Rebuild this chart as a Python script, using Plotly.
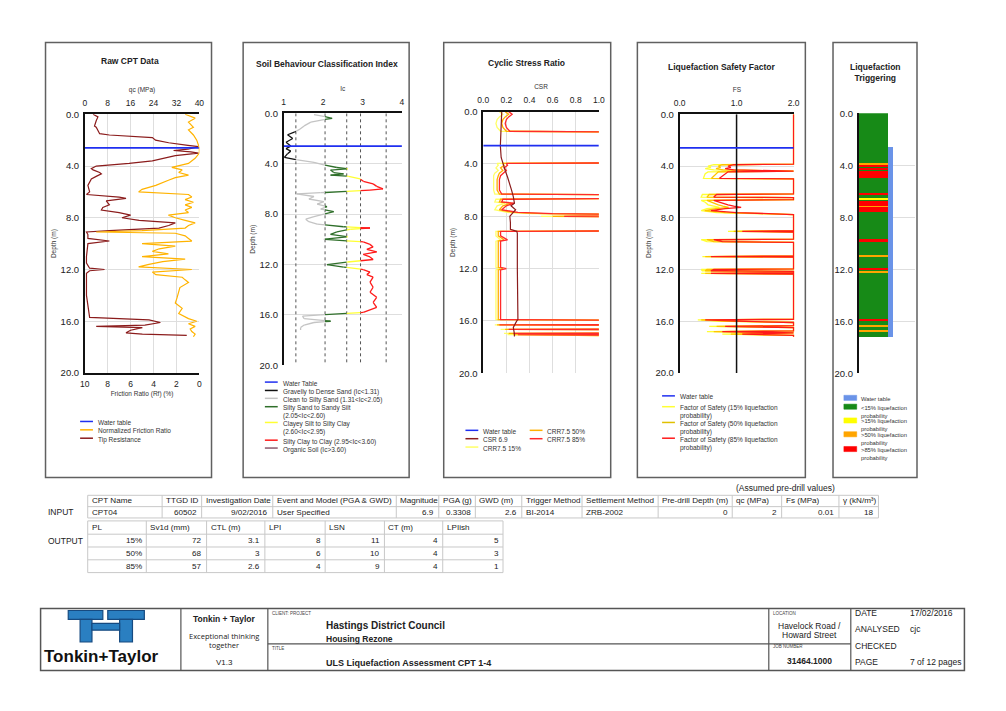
import plotly.graph_objects as go

W, H = 1006, 711
FONT = "Liberation Sans, Arial, sans-serif"


def fx(p):
    return p / W


def fy(p):
    return 1 - p / H


# ------------------------------------------------------------------ data
gwd = 2.6            # ground water depth (m)
max_depth = 20.0
profile_end = 17.2   # end of CPT (m)
depth_ticks = [0, 4, 8, 12, 16, 20]

# Panel 1 : raw CPT data
qc_depth = [0.0, 0.2, 0.5, 0.9, 1.0, 1.3, 1.5, 1.6, 1.7, 1.8, 2.0, 2.2, 2.4, 2.5, 2.7,
            2.8, 2.9, 3.0, 3.2, 3.4, 3.6, 3.8, 3.9, 4.0, 4.2, 4.3, 4.5, 4.6, 4.8, 5.0,
            5.5, 6.0, 6.2, 6.4, 6.5, 6.7, 7.0, 7.2, 7.4, 7.6, 7.8, 8.0, 8.2, 8.4, 8.6,
            8.8, 9.0, 9.1, 9.3, 9.6, 9.8, 10.0, 11.0, 11.5, 11.9, 12.0, 12.1, 12.3, 14.0, 15.0,
            15.7, 15.9, 16.1, 16.3, 16.4, 16.5, 16.7, 16.9, 17.0, 17.1]
qc_mpa = [2.9, 4.6, 4.0, 3.4, 4.0, 4.6, 5.2, 8.6, 15.5, 23.6, 24.7, 29.3, 36, 39.7, 36,
          31, 37, 39.7, 31.6, 27.6, 23.6, 15.5, 8.6, 4.0, 2.3, 2.9, 5.2, 5.8, 4.0, 2.3,
          1.1, 1.7, 0.6, 12, 14.4, 7.5, 8.6, 6.3, 5.8, 12, 16, 13, 19, 31.6, 29.3,
          25.9, 8.6, 0.6, 1.1, 1.1, 8.6, 1.1, 0.6, 0.6, 1.7, 6.9, 1.7, 0.6, 0.6, 1.1,
          1.7, 22.4, 26.4, 21, 4.0, 20.1, 16, 14.4, 20.1, 35.6]
rf_depth = [0.0, 0.3, 0.6, 1.0, 1.2, 1.6, 2.0, 2.4, 2.6, 3.0, 3.4, 3.8, 4.1, 4.3, 4.5,
            4.7, 4.9, 5.1, 5.3, 5.5, 5.8, 6.0, 6.2, 6.4, 6.6, 6.8, 7.0, 7.2, 7.4, 7.6,
            7.8, 8.0, 8.2, 8.4, 8.6, 8.8, 9.0, 9.1, 9.2, 9.4, 9.6, 9.8, 10.0, 10.2, 10.4,
            10.6, 10.8, 11.0, 11.2, 11.4, 11.6, 11.8, 12.0, 12.2, 12.4, 12.6, 12.8, 13.0, 13.4, 13.8,
            14.2, 14.6, 15.0, 15.4, 15.8, 16.0, 16.2, 16.4, 16.6, 16.8, 17.0, 17.2]
rf_pct = [1.24, 0.37, 0.95, 0.52, 0.95, 0.52, 0.23, 0.09, 0.0, 0.0, 0.37, 0.95, 2.4, 1.5, 1.8,
          0.95, 2.1, 2.7, 3.2, 3.8, 5.0, 5.3, 0.95, 0.66, 1.24, 0.52, 1.24, 0.66, 1.24, 0.95,
          2.7, 2.1, 1.24, 0.37, 0.95, 1.24, 5.0, 9.0, 2.1, 1.24, 0.95, 0.66, 5.0, 2.1, 3.5,
          4.1, 2.7, 5.0, 1.24, 3.2, 4.4, 5.3, 0.66, 4.1, 3.8, 1.5, 1.24, 0.95, 1.7, 1.8,
          1.95, 2.1, 1.5, 1.8, 0.95, 0.23, 0.95, 0.37, 0.8, 0.66, 0.37, 0.52]

# Panel 2 : soil behaviour type index
ic_depth = [0.1, 0.3, 0.4, 0.5, 0.7, 1.0, 1.3, 1.5, 1.7, 2.0, 2.3, 2.6, 2.8, 3.0, 3.2,
            3.5, 3.7, 3.9, 4.1, 4.3, 4.4, 4.5, 4.7, 4.8, 4.9, 5.0, 5.2, 5.4, 5.6, 5.8,
            6.0, 6.1, 6.3, 6.4, 6.6, 6.8, 7.0, 7.2, 7.4, 7.6, 7.8, 8.0, 8.2, 8.4, 8.6,
            8.8, 9.0, 9.1, 9.2, 9.4, 9.6, 9.8, 10.0, 10.2, 10.4, 10.6, 10.8, 11.0, 11.2, 11.4,
            11.6, 11.8, 12.0, 12.2, 12.4, 12.6, 12.8, 13.0, 13.4, 13.8, 14.2, 14.6, 15.0, 15.4, 15.8,
            16.0, 16.1, 16.3, 16.5, 16.6, 16.8, 17.0, 17.2]
ic_val = [1.77, 2.10, 2.23, 2.02, 1.69, 1.52, 1.39, 1.27, 1.10, 1.23, 1.06, 1.18, 1.06, 1.18, 1.10,
          1.02, 1.35, 1.77, 2.02, 2.35, 2.62, 2.19, 2.27, 2.52, 2.19, 2.65, 2.94, 3.02, 3.27, 3.36,
          3.52, 3.19, 1.94, 1.33, 1.77, 1.64, 2.02, 1.85, 2.10, 1.94, 2.27, 2.02, 1.77, 1.56, 1.64,
          1.85, 2.52, 3.19, 2.69, 2.35, 2.19, 2.62, 2.02, 3.02, 3.19, 3.27, 3.11, 3.36, 3.02, 3.19,
          3.27, 2.62, 2.10, 2.52, 3.02, 3.19, 3.11, 3.27, 3.19, 3.27, 3.19, 3.36, 3.27, 3.36, 3.02,
          1.94, 1.48, 1.52, 2.19, 1.77, 1.52, 1.43, 1.43]
ic_bounds = [1.31, 2.05, 2.60, 2.95, 3.60]
ic_zone_labels = ["Gravelly to Dense Sand (Ic<1.31)",
                  "Clean to Silty Sand (1.31<Ic<2.05)",
                  "Silty Sand to Sandy Silt<br>(2.05<Ic<2.60)",
                  "Clayey Silt to Silty Clay<br>(2.60<Ic<2.95)",
                  "Silty Clay to Clay (2.95<Ic<3.60)",
                  "Organic Soil (Ic>3.60)"]
ic_zone_colors = ["#111111", "#c4c4c4", "#2f6f2a", "#ffff33", "#ff1a1a", "#8b5a6e"]

# Panel 3 : cyclic stress ratio (non-liquefiable layers plotted at CRR = 2, off the axis)
csr_depth = [0.0, 1.0, 2.0, 2.6, 3.5, 4.0, 4.5, 5.0, 5.5, 6.0, 6.5, 7.0, 7.2, 7.5, 7.8,
             8.0, 8.5, 9.0, 9.15, 9.3, 12.0, 15.0, 15.9, 16.0, 16.5, 17.0, 17.2]
csr_val = [0.16, 0.155, 0.15, 0.148, 0.155, 0.17, 0.19, 0.21, 0.23, 0.245, 0.26, 0.27, 0.24, 0.28, 0.25,
           0.23, 0.235, 0.235, 0.29, 0.295, 0.295, 0.3, 0.3, 0.29, 0.26, 0.27, 0.27]
crr_depth = [0.0, 0.2, 0.4, 0.6, 0.9, 1.2, 1.5, 1.6, 3.9, 3.95, 4.1, 4.3, 4.5, 4.7, 4.9,
             5.2, 6.0, 6.3, 6.4, 6.6, 6.7, 6.9, 7.0, 7.2, 7.5, 7.7, 7.8, 7.9, 8.0, 8.1,
             9.1, 9.15, 9.5, 9.8, 9.9, 11.9, 12.0, 12.1, 15.9, 16.0, 16.25, 16.3, 16.35, 16.6, 16.65,
             16.7, 16.9, 16.95, 17.0, 17.05, 17.1, 17.2]
crr85 = [0.22, 0.25, 0.22, 0.2, 0.19, 0.2, 0.23, 2.0, 2.0, 0.2, 0.21, 0.18, 0.2, 0.17, 0.15,
         0.14, 0.14, 0.16, 2.0, 2.0, 0.17, 0.16, 0.27, 0.2, 0.16, 0.3, 0.6, 2.0, 0.7, 2.0,
         2.0, 0.15, 0.15, 0.21, 0.15, 0.15, 0.2, 0.15, 0.15, 2.0, 2.0, 0.14, 2.0, 2.0, 0.22,
         2.0, 2.0, 0.26, 2.0, 0.3, 2.0, 2.0]
crr50 = [0.19, 0.22, 0.19, 0.17, 0.16, 0.17, 0.2, 2.0, 2.0, 0.17, 0.18, 0.15, 0.17, 0.14, 0.13,
         0.12, 0.12, 0.14, 2.0, 2.0, 0.15, 0.14, 0.24, 0.17, 0.14, 0.26, 0.52, 2.0, 0.6, 2.0,
         2.0, 0.13, 0.13, 0.18, 0.13, 0.13, 0.17, 0.13, 0.13, 2.0, 2.0, 0.12, 2.0, 2.0, 0.19,
         2.0, 2.0, 0.22, 2.0, 0.26, 2.0, 2.0]
crr15 = [0.14, 0.17, 0.14, 0.12, 0.11, 0.12, 0.15, 2.0, 2.0, 0.12, 0.13, 0.11, 0.13, 0.1, 0.09,
         0.09, 0.09, 0.1, 2.0, 2.0, 0.11, 0.1, 0.19, 0.12, 0.1, 0.21, 0.42, 2.0, 0.5, 2.0,
         2.0, 0.11, 0.11, 0.15, 0.11, 0.11, 0.14, 0.11, 0.11, 2.0, 2.0, 0.1, 2.0, 2.0, 0.15,
         2.0, 2.0, 0.18, 2.0, 0.21, 2.0, 2.0]

# Panel 4 : factor of safety
fs_limit = 1.0
fs_depth = [0.0, 3.85, 3.9, 4.0, 4.1, 4.2, 4.3, 4.35, 4.4, 4.45, 4.6, 4.8, 4.95, 5.0, 6.15,
            6.2, 6.4, 6.45, 6.6, 6.65, 6.8, 7.0, 7.1, 7.2, 7.3, 7.45, 7.6, 7.75, 9.0, 9.05,
            9.1, 9.65, 9.7, 9.85, 9.9, 10.95, 11.0, 11.05, 11.95, 12.0, 12.1, 12.15, 12.25, 12.3, 12.35,
            15.85, 15.9, 16.0, 16.1, 16.35, 16.4, 16.5, 16.75, 16.8, 16.9, 17.0, 17.1, 17.2]
fs85 = [2.0, 2.0, 0.95, 0.85, 0.9, 0.8, 0.95, 2.0, 2.0, 0.85, 0.8, 0.75, 0.7, 2.0, 2.0,
        0.65, 0.6, 2.0, 2.0, 0.6, 0.7, 0.85, 0.95, 1.08, 0.8, 0.55, 1.0, 2.0, 2.0, 1.1,
        2.0, 2.0, 0.6, 0.75, 2.0, 2.0, 0.55, 2.0, 2.0, 0.6, 0.55, 2.0, 2.0, 0.55, 2.0,
        2.0, 0.45, 1.0, 2.0, 2.0, 0.8, 2.0, 2.0, 0.75, 2.0, 1.1, 2.0, 2.0]
fs50 = [2.0, 2.0, 0.75, 0.68, 0.72, 0.64, 0.76, 2.0, 2.0, 0.68, 0.64, 0.6, 0.56, 2.0, 2.0,
        0.52, 0.48, 2.0, 2.0, 0.48, 0.56, 0.68, 0.76, 0.86, 0.64, 0.44, 0.8, 2.0, 2.0, 0.95,
        2.0, 2.0, 0.48, 0.6, 2.0, 2.0, 0.45, 2.0, 2.0, 0.48, 0.45, 2.0, 2.0, 0.45, 2.0,
        2.0, 0.38, 0.8, 2.0, 2.0, 0.65, 2.0, 2.0, 0.6, 2.0, 0.9, 2.0, 2.0]
fs15 = [2.0, 2.0, 0.6, 0.5, 0.55, 0.45, 0.6, 2.0, 2.0, 0.5, 0.45, 0.43, 0.42, 2.0, 2.0,
        0.4, 0.38, 2.0, 2.0, 0.38, 0.45, 0.5, 0.58, 0.7, 0.48, 0.38, 0.65, 2.0, 2.0, 0.85,
        2.0, 2.0, 0.38, 0.48, 2.0, 2.0, 0.4, 2.0, 2.0, 0.38, 0.4, 2.0, 2.0, 0.38, 2.0,
        2.0, 0.32, 0.65, 2.0, 2.0, 0.52, 2.0, 2.0, 0.48, 2.0, 0.75, 2.0, 2.0]

# Panel 5 : liquefaction triggering bands
trig_top = [3.88, 4.06, 4.24, 4.48, 6.12, 6.58, 6.78, 7.16, 7.26, 9.66, 10.95, 11.93, 12.22, 15.88, 16.32, 16.70]
trig_bot = [3.98, 4.16, 4.36, 5.00, 6.28, 6.68, 7.14, 7.24, 7.62, 9.90, 11.05, 12.07, 12.32, 16.02, 16.42, 16.80]
trig_cls = [">50%", ">85%", ">85%", ">85%", ">85%", ">15%", ">85%", ">50%", ">85%", ">85%",
            ">50%", ">85%", ">50%", ">85%", ">50%", ">50%"]

# Tables
input_header = ["CPT Name", "TTGD ID", "Investigation Date", "Event and Model (PGA & GWD)", "Magnitude",
                "PGA (g)", "GWD (m)", "Trigger Method", "Settlement Method", "Pre-drill Depth (m)",
                "qc (MPa)", "Fs (MPa)", "γ (kN/m³)"]
input_row = ["CPT04", "60502", "9/02/2016", "User Specified", "6.9", "0.3308", f"{gwd:g}",
             "BI-2014", "ZRB-2002", "0", "2", "0.01", "18"]
input_align = ["left", "right", "right", "left", "right", "right", "right", "left", "left",
               "right", "right", "right", "right"]
output_header = ["PL", "Sv1d (mm)", "CTL (m)", "LPI", "LSN", "CT (m)", "LPIish"]
output_pl = ["15%", "50%", "85%"]
output_sv1d = [72, 68, 57]
output_ctl = [3.1, 3, 2.6]
output_lpi = [8, 6, 4]
output_lsn = [11, 10, 9]
output_ct = [4, 4, 4]
output_lpiish = [5, 3, 1]

# ------------------------------------------------------------------ styles
BLUE = "#1f2ff0"
TIP_C = "#8b1c1c"
RF_C = "#ffb300"
CSR_C = "#8b1c1c"
CRR15_C, CRR50_C, CRR85_C = "#ffff66", "#ffb000", "#ff2a2a"
FS15_C, FS50_C, FS85_C = "#ffff33", "#ffc400", "#ff1a1a"
GREEN_C = "#178a17"
TRIG_COLORS = {">15%": "#ffff00", ">50%": "#ffa500", ">85%": "#ff0000"}
WT_BAR_C = "#6a93e8"
GRID = "#dedede"

fig = go.Figure()

# ---------------- Panel 1
qc_range = [0, 40]
rf_range = [10, 0]
fig.add_trace(go.Scatter(x=rf_pct, y=rf_depth, mode="lines", xaxis="x2", yaxis="y",
                         line=dict(color=RF_C, width=1.2), name="Normalized Friction Ratio"))
fig.add_trace(go.Scatter(x=qc_mpa, y=qc_depth, mode="lines", xaxis="x", yaxis="y",
                         line=dict(color=TIP_C, width=1.2), name="Tip Resistance"))
fig.add_trace(go.Scatter(x=qc_range, y=[gwd, gwd], mode="lines", xaxis="x", yaxis="y",
                         line=dict(color=BLUE, width=1.8), name="Water table"))

# ---------------- Panel 2
ic_range = [1, 4]
for b in ic_bounds:
    fig.add_trace(go.Scatter(x=[b, b], y=[0, max_depth], mode="lines", xaxis="x3", yaxis="y3",
                             line=dict(color="#555", width=1, dash="dot"), hoverinfo="skip"))


def zone_of(v):
    return sum(1 for b in ic_bounds if v >= b)


zx = {z: [] for z in range(len(ic_zone_colors))}
zy = {z: [] for z in range(len(ic_zone_colors))}
for i in range(len(ic_depth) - 1):
    d0, d1 = ic_depth[i], ic_depth[i + 1]
    v0, v1 = ic_val[i], ic_val[i + 1]
    lo, hi = min(v0, v1), max(v0, v1)
    cuts = sorted([b for b in ic_bounds if lo < b < hi], reverse=v0 > v1)
    pts = [(v0, d0)] + [(b, d0 + (b - v0) / (v1 - v0) * (d1 - d0)) for b in cuts] + [(v1, d1)]
    for (a, da), (c, dc) in zip(pts[:-1], pts[1:]):
        z = zone_of((a + c) / 2)
        zx[z] += [a, c, None]
        zy[z] += [da, dc, None]
for z in range(len(ic_zone_colors)):
    if zx[z]:
        fig.add_trace(go.Scatter(x=zx[z], y=zy[z], mode="lines", xaxis="x3", yaxis="y3",
                                 line=dict(color=ic_zone_colors[z], width=1.3),
                                 name=ic_zone_labels[z].replace("<br>", " ")))
fig.add_trace(go.Scatter(x=[ic_range[0], ic_range[1]], y=[gwd, gwd], mode="lines", xaxis="x3", yaxis="y3",
                         line=dict(color=BLUE, width=1.8), name="Water Table"))

# ---------------- Panel 3
csr_range = [0, 1]
for vals, col, nm in [(crr15, CRR15_C, "CRR7.5 15%"), (crr50, CRR50_C, "CRR7.5 50%"), (crr85, CRR85_C, "CRR7.5 85%")]:
    fig.add_trace(go.Scatter(x=vals, y=crr_depth, mode="lines", xaxis="x4", yaxis="y4",
                             line=dict(color=col, width=1.3), name=nm))
fig.add_trace(go.Scatter(x=csr_val, y=csr_depth, mode="lines", xaxis="x4", yaxis="y4",
                         line=dict(color=CSR_C, width=1.2), name="CSR 6.9"))
fig.add_trace(go.Scatter(x=csr_range, y=[gwd, gwd], mode="lines", xaxis="x4", yaxis="y4",
                         line=dict(color=BLUE, width=1.8), name="Water table"))

# ---------------- Panel 4
fs_range = [0, 2]
for vals, col, nm in [(fs15, FS15_C, "FS 15%"), (fs50, FS50_C, "FS 50%"), (fs85, FS85_C, "FS 85%")]:
    fig.add_trace(go.Scatter(x=vals, y=fs_depth, mode="lines", xaxis="x5", yaxis="y5",
                             line=dict(color=col, width=1.3), name=nm))
fig.add_trace(go.Scatter(x=[fs_limit, fs_limit], y=[0, max_depth], mode="lines", xaxis="x5", yaxis="y5",
                         line=dict(color="#111", width=1.5), name="FS = 1"))
fig.add_trace(go.Scatter(x=fs_range, y=[gwd, gwd], mode="lines", xaxis="x5", yaxis="y5",
                         line=dict(color=BLUE, width=1.8), name="Water table"))

# ---------------- Panel 5
fig.add_trace(go.Bar(orientation="h", y=[profile_end / 2], x=[1], base=0, width=[profile_end],
                     marker=dict(color=GREEN_C, line=dict(width=0)), xaxis="x6", yaxis="y6",
                     name="<15% liquefaction probability"))
for cls, col in TRIG_COLORS.items():
    mids = [(t + b) / 2 for t, b, c in zip(trig_top, trig_bot, trig_cls) if c == cls]
    wids = [b - t for t, b, c in zip(trig_top, trig_bot, trig_cls) if c == cls]
    fig.add_trace(go.Bar(orientation="h", y=mids, x=[1] * len(mids), base=0, width=wids,
                         marker=dict(color=col, line=dict(width=0)), xaxis="x6", yaxis="y6",
                         name=cls + " liquefaction probability"))
fig.add_trace(go.Bar(orientation="h", y=[(gwd + profile_end) / 2], x=[0.2], base=1, width=[profile_end - gwd],
                     marker=dict(color=WT_BAR_C, line=dict(width=0)), xaxis="x6", yaxis="y6",
                     name="Water table"))

# ------------------------------------------------------------------ axes
P = {1: (79.7, 195.7, 110, 372.7), 2: (281, 400.7, 109, 365), 3: (483, 600, 107.3, 373),
     4: (681.7, 798, 110, 372.7), 5: (863, 920, 109, 373)}


def ydom(k):
    return [fy(P[k][3]), fy(P[k][2])]


def xdom(k):
    return [fx(P[k][0]), fx(P[k][1])]


def depth_axis(k, anchor, title=True):
    return dict(domain=ydom(k), anchor=anchor, range=[max_depth, 0], tickvals=depth_ticks, tickformat=".1f",
                showgrid=True, gridcolor=GRID, gridwidth=1, zeroline=False, showline=True,
                linecolor="#111", linewidth=1.5, ticks="", tickfont=dict(size=9.5, color="#222"),
                ticklabelstandoff=2,
                title=dict(text="Depth (m)" if title else "", font=dict(size=6.5, color="#333"), standoff=3))


def top_axis(k, anchor, rng, tv, title, fmt="", grid=True):
    return dict(domain=xdom(k), anchor=anchor, range=rng, tickvals=tv, tickformat=fmt, side="top",
                showgrid=grid, gridcolor=GRID, zeroline=False, showline=True, linecolor="#111",
                linewidth=1.5, ticks="", tickfont=dict(size=8.5, color="#222"), ticklabelstandoff=3,
                title=dict(text=title, font=dict(size=6.5, color="#333"), standoff=5))


layout_axes = dict(
    xaxis=top_axis(1, "y", qc_range, [0, 8, 16, 24, 32, 40], "qc (MPa)"),
    xaxis2=dict(overlaying="x", anchor="y", side="bottom", range=rf_range, tickvals=[10, 8, 6, 4, 2, 0],
                showgrid=False, zeroline=False, showline=True, linecolor="#111", linewidth=1.5, ticks="",
                tickfont=dict(size=8.5, color="#222"), ticklabelstandoff=2,
                title=dict(text="Friction Ratio (Rf) (%)", font=dict(size=6.5, color="#333"), standoff=4)),
    yaxis=depth_axis(1, "x"),
    xaxis3=top_axis(2, "y3", ic_range, [1, 2, 3, 4], "Ic", grid=False),
    yaxis3=depth_axis(2, "x3"),
    xaxis4=top_axis(3, "y4", csr_range, [0, 0.2, 0.4, 0.6, 0.8, 1.0], "CSR", fmt=".1f"),
    yaxis4=depth_axis(3, "x4"),
    # a hair of extra room so the capped FS = 2 line is not half clipped at the edge
    xaxis5=top_axis(4, "y5", [fs_range[0], fs_range[1] * 1.008], [0, 1, 2], "FS", fmt=".1f"),
    yaxis5=depth_axis(4, "x5"),
    xaxis6=dict(domain=xdom(5), anchor="y6", range=[0, 1.97], visible=False),
    yaxis6=depth_axis(5, "x6", title=False),
)

# ------------------------------------------------------------------ decorations
shapes = []
annotations = []


def rect(x0, y0, x1, y1, color="#666", width=1.5, fill=None):
    d = dict(type="rect", xref="paper", yref="paper", x0=fx(x0), x1=fx(x1), y0=fy(y0), y1=fy(y1),
             line=dict(color=color, width=width), layer="above")
    if fill:
        d["fillcolor"] = fill
    shapes.append(d)


def line(x0, y0, x1, y1, color="#666", width=1.0):
    shapes.append(dict(type="line", xref="paper", yref="paper", x0=fx(x0), x1=fx(x1), y0=fy(y0), y1=fy(y1),
                       line=dict(color=color, width=width)))


def text(x, y, t, size=8.5, anchor="left", bold=False, color="#222", yanchor="middle", family=FONT):
    if bold:
        t = "<b>" + t + "</b>"
    annotations.append(dict(xref="paper", yref="paper", x=fx(x), y=fy(y), text=t, showarrow=False,
                            xanchor=anchor, yanchor=yanchor, align=anchor if anchor != "center" else "center",
                            font=dict(size=size, color=color, family=family)))


# panel frames
for (x0, x1) in [(40, 208), (240, 408), (443, 612), (639, 809), (837, 922)]:
    rect(x0, 37, x1, 479, color="#606060", width=1.5)

# panel titles
text(125, 56, "Raw CPT Data", 8.5, "center", True)
text(325, 59, "Soil Behaviour Classification Index", 8.5, "center", True)
text(527, 58, "Cyclic Stress Ratio", 8.5, "center", True)
text(724, 62, "Liquefaction Safety Factor", 8.5, "center", True)
text(880, 68, "Liquefaction<br>Triggering", 8.5, "center", True)


# legends (drawn by hand, compact like the original)
def leg_line(x, y, color, label, size=6.5, length=13, width=1.5):
    line(x, y, x + length, y, color=color, width=width)
    text(x + length + 3, y - 4.6, label, size, "left", color="#333", yanchor="top")


def leg_box(x, y, color, label, size=5.8):
    rect(x, y - 2.6, x + 13, y + 2.6, color=color, width=0.5, fill=color)
    text(x + 15, y - 4.2, label, size, "left", color="#333", yanchor="top")


leg_line(75, 422, BLUE, "Water table")
leg_line(75, 430.5, RF_C, "Normalized Friction Ratio")
leg_line(75, 439, TIP_C, "Tip Resistance")

leg_line(262, 382, BLUE, "Water Table")
for lab, col, yy in zip(ic_zone_labels, ic_zone_colors, [390.5, 398.5, 407, 423, 441, 449]):
    leg_line(262, yy, col, lab)

leg_line(465, 431, BLUE, "Water table")
leg_line(465, 439.5, CSR_C, "CSR 6.9")
leg_line(465, 448, CRR15_C, "CRR7.5 15%")
leg_line(530, 431, CRR50_C, "CRR7.5 50%")
leg_line(530, 439.5, CRR85_C, "CRR7.5 85%")

leg_line(664, 396, BLUE, "Water table")
leg_line(664, 407, FS15_C, "Factor of Safety (15% liquefaction<br>probability)")
leg_line(664, 423, "#e0c000", "Factor of Safety (50% liquefaction<br>probability)")
leg_line(664, 439, FS85_C, "Factor of Safety (85% liquefaction<br>probability)")

leg_box(848, 398, WT_BAR_C, "Water table")
leg_box(848, 407, GREEN_C, "<15% liquefaction<br>probability")
leg_box(848, 421, TRIG_COLORS[">15%"], ">15% liquefaction<br>probability")
leg_box(848, 435, TRIG_COLORS[">50%"], ">50% liquefaction<br>probability")
leg_box(848, 450, TRIG_COLORS[">85%"], ">85% liquefaction<br>probability")

# ---------------- tables
TB = "#c8c8c8"


def draw_table(x0, widths, row_edges, rows, aligns, header_align="left", size=8.1):
    xs = [x0]
    for w in widths:
        xs.append(xs[-1] + w)
    for yy in row_edges:
        line(xs[0], yy, xs[-1], yy, color=TB, width=1)
    for xx in xs:
        line(xx, row_edges[0], xx, row_edges[-1], color=TB, width=1)
    for r, row in enumerate(rows):
        yc = (row_edges[r] + row_edges[r + 1]) / 2
        for c, val in enumerate(row):
            al = header_align if r == 0 else aligns[c]
            if al == "left":
                text(xs[c] + 2, yc, str(val), size, "left")
            else:
                text(xs[c + 1] - 2.5, yc, str(val), size, "right")


draw_table(82.7, [75.3, 40, 72, 125, 43, 37, 47, 61, 77, 75, 50, 58, 40], [497, 508.5, 520],
           [input_header, input_row], input_align)
out_rows = [output_header] + [list(r) for r in zip(output_pl, output_sv1d, output_ctl, output_lpi,
                                                  output_lsn, output_ct, output_lpiish)]
draw_table(82.7, [59.3, 61, 59, 61, 60, 59, 61], [523, 536.5, 549.5, 562.5, 575.5],
           out_rows, ["right"] * 7)
text(40, 514, "INPUT", 8.5, "left")
text(40, 543, "OUTPUT", 8.5, "left")
text(789, 490, "(Assumed pre-drill values)", 8.5, "center")

# ---------------- title block
rect(35, 612, 970, 675, color="#555", width=1.5)
for xx in [177, 265, 772, 855]:
    line(xx, 612, xx, 675, color="#555", width=1.2)
line(265, 648, 855, 648, color="#555", width=1.2)

# logo (T+T mark)
LOGO_FILL, LOGO_LINE = "#2a7fc1", "#164a80"
for (a, b, c, d) in [(63, 614, 98, 623), (75, 623, 87, 646), (103, 614, 140, 623), (115, 623, 128, 646),
                     (87, 627, 115, 634)]:
    rect(a, b, c, d, color=LOGO_LINE, width=1.2, fill=LOGO_FILL)
text(97, 661, "Tonkin+Taylor", 17, "center", True, color="#111")

text(221, 623, "Tonkin + Taylor", 8.5, "center", True)
text(221, 639.5, "Exceptional thinking", 7.5, "center", family="Open Sans, " + FONT)
text(221, 649.5, "together", 7.5, "center", family="Open Sans, " + FONT)
text(221, 667, "V1.3", 8, "center")

text(267, 617, "CLIENT: PROJECT", 4.5, "left", color="#444")
text(322, 629, "Hastings District Council", 10, "left", True)
text(322, 643, "Housing Rezone", 8.5, "left", True)
text(267, 653, "TITLE", 4.5, "left", color="#444")
text(322, 667, "ULS Liquefaction Assessment CPT 1-4", 9, "left", True)

text(774, 617, "LOCATION", 4.5, "left", color="#444")
text(813, 630, "Havelock Road /", 8.5, "center")
text(813, 638.5, "Howard Street", 8.5, "center")
text(774, 651, "JOB NUMBER", 4.5, "left", color="#444")
text(813, 665, "31464.1000", 8.5, "center", True)

for lab, val, yy in [("DATE", "17/02/2016", 617), ("ANALYSED", "cjc", 633), ("CHECKED", "", 650),
                     ("PAGE", "7 of 12 pages", 666)]:
    text(857, yy, lab, 8.5, "left")
    if val:
        text(913, yy, val, 8.5, "left")

fig.update_traces(showlegend=False)
fig.update_layout(
    width=W, height=H, margin=dict(l=0, r=0, t=0, b=0),
    paper_bgcolor="white", plot_bgcolor="white",
    font=dict(family=FONT, size=8, color="#222"),
    barmode="overlay", bargap=0,
    showlegend=False,
    shapes=shapes, annotations=annotations,
    **layout_axes,
)

fig.write_html(
    "out.html", config={"displayModeBar": False},
    post_script=("document.documentElement.style.margin='0px';document.body.style.margin='0px';"
                 "document.body.style.padding='0px';document.documentElement.style.overflow='hidden';"
                 "document.body.style.overflow='hidden';"))
